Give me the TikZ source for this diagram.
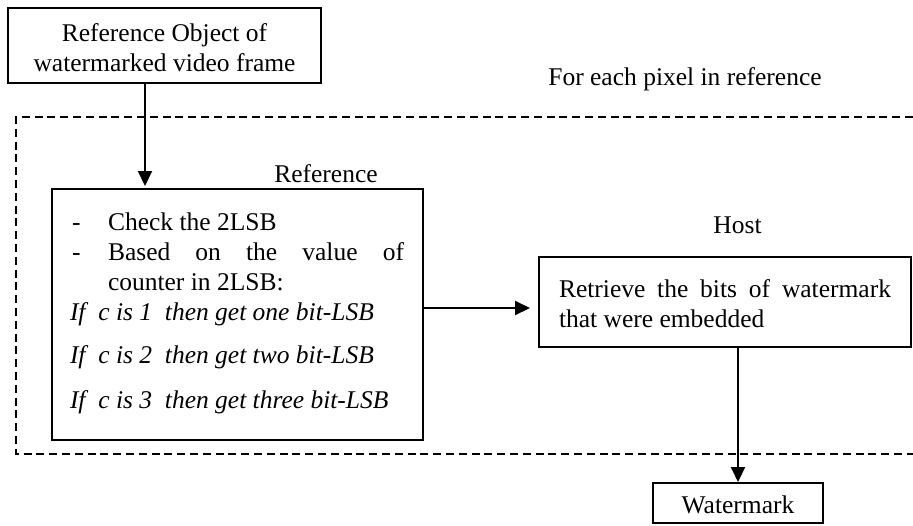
\documentclass[tikz,border=0pt]{standalone}
\usepackage{fontspec}
\setmainfont{Liberation Serif}
\usetikzlibrary{arrows.meta}
\tikzset{
  txt/.style={inner sep=0pt, outer sep=0pt, font=\fontsize{12.75}{15}\selectfont},
  boxnode/.style={draw, line width=1pt, rectangle, inner sep=0pt},
  arr/.style={line width=1pt, -{Triangle[length=7.5pt,width=7pt]}},
  loopframe/.style={line width=0.9pt, dash pattern=on 4pt off 2.4pt},
}
\begin{document}
\begin{tikzpicture}[x=0.5pt, y=-0.5pt]
\useasboundingbox (0,0) rectangle (913,525);

% dashed frame around the per-pixel loop
\draw[loopframe] (913,117) -| (16,454) -- (913,454);
\node[txt, anchor=base] (loop) at (685,85) {For each pixel in reference};

% input object
\node[boxnode, minimum width=156.5pt, minimum height=37.5pt] (topbox) at (164.5,45.5) {};
\node[txt, anchor=base] (top1) at (164.5,41) {Reference Object of};
\node[txt, anchor=base] (top2) at (164.5,71) {watermarked video frame};

% reference step
\node[txt, anchor=base] (reflbl) at (326,182) {Reference};
\node[boxnode, minimum width=185.5pt, minimum height=125.5pt] (refbox) at (237.5,314.5) {};
\node[txt, anchor=base west] (d1) at (72,230) {-};
\node[txt, anchor=base west] (r1) at (108,230) {Check the 2LSB};
\node[txt, anchor=base west] (d2) at (72,260) {-};
\node[txt, anchor=base west] (r2) at (108,260) {\makebox[148pt][s]{Based on the value of}};
\node[txt, anchor=base west] (r3) at (108,290) {counter in 2LSB:};
\node[txt, anchor=base west, font=\fontsize{12.75}{15}\selectfont\itshape] (i1) at (70,320) {If\ \ c is 1\ \ then get one bit-LSB};
\node[txt, anchor=base west, font=\fontsize{12.75}{15}\selectfont\itshape] (i2) at (70,363) {If\ \ c is 2\ \ then get two bit-LSB};
\node[txt, anchor=base west, font=\fontsize{12.75}{15}\selectfont\itshape] (i3) at (70,408) {If\ \ c is 3\ \ then get three bit-LSB};

% host step
\node[txt, anchor=base] (hostlbl) at (737.5,233) {Host};
\node[boxnode, minimum width=186pt, minimum height=45pt] (host) at (725,302) {};
\node[txt, anchor=base west] (h1) at (559,297) {\makebox[166pt][s]{Retrieve the bits of watermark}};
\node[txt, anchor=base west] (h2) at (559,327) {that were embedded};

% output
\node[boxnode, minimum width=85pt, minimum height=20pt] (wm) at (738,503) {};
\node[txt, anchor=base] (wmtxt) at (738,513) {Watermark};

% connectors
\coordinate (c1) at (145,0);
\coordinate (c2) at (0,308);
\draw[arr, shorten >=1pt] (c1 |- topbox.south) -- (c1 |- refbox.north);
\draw[arr, shorten >=4pt] (refbox.east |- c2) -- (host.west |- c2);
\draw[arr] (host.south -| wm.north) -- (wm.north);
\end{tikzpicture}
\end{document}
